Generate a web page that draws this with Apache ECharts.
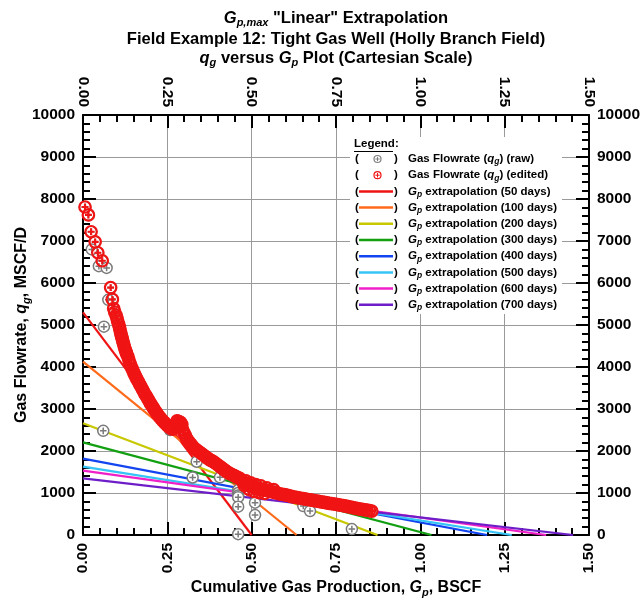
<!DOCTYPE html>
<html>
<head>
<meta charset="utf-8">
<script src="https://cdn.jsdelivr.net/npm/echarts@6/dist/echarts.min.js"></script>
<style>
  html, body { margin: 0; padding: 0; background: #fff; }
  #chart { width: 641px; height: 605px; }
</style>
</head>
<body>
<div id="chart"></div>
<script>
// Tick labels
const gpTickLabels = ['0.00', '0.25', '0.50', '0.75', '1.00', '1.25', '1.50'];
const qgTickLabels = ['0', '1000', '2000', '3000', '4000', '5000', '6000', '7000', '8000', '9000', '10000'];

// Edited gas flowrate data: [Gp (BSCF), qg (MSCF/D)]
const editedPoints = [
  [0.006,7810],[0.016,7620],[0.024,7220],[0.036,6980],[0.044,6720],[0.057,6530],
  [0.082,5890],[0.087,5610],[0.091,5390],[0.094,5310],[0.098,5230],[0.101,5150],
  [0.103,5080],[0.106,5010],[0.108,4945],[0.110,4870],[0.112,4800],[0.114,4740],
  [0.116,4680],[0.118,4620],[0.120,4560],[0.122,4500],[0.124,4450],[0.126,4390],
  [0.128,4350],[0.130,4310],[0.133,4250],[0.136,4170],[0.139,4090],[0.142,4030],
  [0.145,3970],[0.148,3910],[0.151,3860],[0.154,3810],[0.157,3760],[0.160,3710],
  [0.164,3650],[0.168,3590],[0.172,3530],[0.176,3470],[0.180,3410],[0.184,3350],
  [0.189,3290],[0.193,3230],[0.197,3170],[0.201,3120],[0.205,3070],[0.209,3020],
  [0.213,2970],[0.217,2920],[0.221,2870],[0.226,2820],[0.231,2770],[0.236,2720],
  [0.241,2680],[0.246,2640],[0.251,2600],[0.256,2570],[0.261,2540],[0.266,2520],
  [0.271,2560],[0.276,2610],[0.279,2720],[0.281,2650],[0.284,2700],[0.286,2630],
  [0.289,2680],[0.291,2580],[0.293,2630],[0.295,2510],
  [0.299,2440],[0.303,2370],[0.307,2300],[0.311,2250],[0.316,2200],[0.321,2150],
  [0.326,2100],[0.331,2060],[0.336,2030],[0.341,2000],[0.346,1970],[0.351,1940],
  [0.356,1910],[0.361,1880],[0.366,1850],[0.371,1820],[0.376,1790],[0.381,1770],
  [0.386,1745],[0.391,1720],[0.396,1690],[0.401,1660],[0.406,1630],[0.411,1600],
  [0.416,1570],[0.421,1540],[0.426,1510],[0.431,1480],[0.436,1460],[0.441,1440],
  [0.446,1420],[0.451,1400],[0.456,1380],[0.461,1360],[0.466,1340],[0.471,1300],
  [0.476,1260],[0.478,1180],[0.481,1230],[0.483,1290],[0.486,1200],[0.491,1180],
  [0.492,1090],[0.496,1160],[0.497,1240],[0.501,1150],[0.506,1140],[0.507,1040],
  [0.511,1130],[0.512,1200],[0.516,1115],[0.521,1100],[0.522,1010],[0.526,1090],
  [0.527,1170],[0.531,1085],[0.536,1075],[0.538,990],[0.541,1070],[0.545,1120],
  [0.548,1055],[0.555,1040],[0.562,1025],[0.565,1080],[0.569,1010],
  [0.576,995],[0.583,980],[0.590,970],[0.597,960],[0.604,950],[0.611,935],
  [0.618,920],[0.625,905],[0.632,895],[0.639,885],[0.646,875],[0.653,865],
  [0.660,855],[0.667,845],[0.674,835],[0.681,825],[0.688,815],[0.695,805],
  [0.702,795],[0.709,785],[0.716,775],[0.723,765],[0.730,755],[0.737,745],
  [0.744,738],[0.751,728],[0.758,718],[0.765,708],[0.772,698],[0.779,688],
  [0.786,676],[0.793,664],[0.800,652],[0.807,640],[0.814,628],[0.821,618],
  [0.828,608],[0.835,600],[0.842,592],[0.849,582],[0.856,570]
];

// Points removed during editing (present only in the raw data)
const rawOnlyPoints = [
  [0.026,6800],[0.047,6400],[0.070,6360],[0.075,5600],[0.062,4960],[0.060,2480],
  [0.258,2500],[0.325,1370],[0.337,1745],[0.406,1373],[0.460,1070],[0.460,1000],
  [0.460,940],[0.460,900],[0.460,675],[0.510,770],[0.510,475],[0.460,20],
  [0.653,690],[0.673,570],[0.797,140]
];

// Linear Gp extrapolations: qg-intercept and Gp,max for each window
const extrapDays = [50, 100, 200, 300, 400, 500, 600, 700];
const extrapQgIntercept = [5300, 4127, 2660, 2206, 1817, 1627, 1532, 1349];
const extrapGpMax = [0.500, 0.633, 0.873, 1.033, 1.198, 1.271, 1.373, 1.453];
const extrapColors = ['#F01414', '#FF6A1A', '#C8C800', '#12A012', '#1244F0', '#36C3F5', '#F020C8', '#6E1EC8'];

const FONT = '"Liberation Sans", Arial, Helvetica, sans-serif';
const markerPath = 'path://M12,2A10,10,0,1,1,12,22A10,10,0,1,1,12,2Z M12,6L12,18 M6,12L18,12';

const chart = echarts.init(document.getElementById('chart'), null, { renderer: 'canvas' });

const nameRich = {
  b: { fontFamily: FONT, fontWeight: 'bold', fontSize: 16, color: '#000', lineHeight: 20 },
  i: { fontFamily: FONT, fontWeight: 'bold', fontStyle: 'italic', fontSize: 16, color: '#000', lineHeight: 20 },
  sub: { fontFamily: FONT, fontWeight: 'bold', fontStyle: 'italic', fontSize: 11, color: '#000', lineHeight: 10, padding: [10, 0, 0, 0] }
};

const extrapSeries = extrapDays.map((d, k) => ({
  name: 'Gp extrapolation (' + d + ' days)',
  type: 'line',
  xAxisIndex: 0, yAxisIndex: 0,
  data: [[0, extrapQgIntercept[k]], [extrapGpMax[k], 0]],
  showSymbol: false,
  symbol: 'none',
  lineStyle: { color: extrapColors[k], width: 2.2 },
  z: 2,
  silent: true
}));

// Legend drawn as graphic elements
const legendX = 354, legendY0 = 159, legendStep = 16.2;
const legendGraphics = [];
legendGraphics.push({
  type: 'rect', silent: true, z: 5,
  shape: { x: 350, y: 137, width: 212, height: 177 },
  style: { fill: '#fff' }
});
legendGraphics.push({
  type: 'text', left: legendX, top: 138, silent: true, z: 6,
  style: { text: 'Legend:', font: 'bold 11.5px ' + FONT, fill: '#000' }
});
legendGraphics.push({
  type: 'line', silent: true, z: 6,
  shape: { x1: legendX, y1: 151.5, x2: legendX + 39, y2: 151.5 },
  style: { stroke: '#000', lineWidth: 1 }
});
const legendRows = [
  { kind: 'raw', text: 'Gas Flowrate ({i|q}{sub|g}) (raw)' },
  { kind: 'edited', text: 'Gas Flowrate ({i|q}{sub|g}) (edited)' }
].concat(extrapDays.map((d, k) => ({ kind: 'line', color: extrapColors[k], text: '{i|G}{sub|p} extrapolation (' + d + ' days)' })));

const legRich = {
  i: { font: 'bold italic 11.5px ' + FONT, fill: '#000', lineHeight: 14 },
  sub: { font: 'bold italic 8.5px ' + FONT, fill: '#000', lineHeight: 8, padding: [6, 0, 0, 0] }
};

legendRows.forEach((row, r) => {
  const cy = legendY0 + r * legendStep;
  legendGraphics.push({ type: 'text', silent: true, z: 6, x: legendX + 1, y: cy,
    style: { text: '(', font: 'bold 11.5px ' + FONT, fill: '#000', verticalAlign: 'middle' } });
  legendGraphics.push({ type: 'text', silent: true, z: 6, x: legendX + 40, y: cy,
    style: { text: ')', font: 'bold 11.5px ' + FONT, fill: '#000', verticalAlign: 'middle' } });
  if (row.kind === 'line') {
    legendGraphics.push({ type: 'line', silent: true, z: 6,
      shape: { x1: legendX + 5, y1: cy, x2: legendX + 39, y2: cy },
      style: { stroke: row.color, lineWidth: 2.5 } });
  } else {
    const c = row.kind === 'raw' ? '#808080' : '#F01414';
    legendGraphics.push({ type: 'circle', silent: true, z: 6,
      shape: { cx: legendX + 23.5, cy: cy, r: 3.5 },
      style: { fill: '#fff', stroke: c, lineWidth: 1.2 } });
    legendGraphics.push({ type: 'polyline', silent: true, z: 6,
      shape: { points: [[legendX + 23.5, cy - 2.2], [legendX + 23.5, cy + 2.2]] },
      style: { stroke: c, lineWidth: 1 } });
    legendGraphics.push({ type: 'polyline', silent: true, z: 6,
      shape: { points: [[legendX + 21.3, cy], [legendX + 25.7, cy]] },
      style: { stroke: c, lineWidth: 1 } });
  }
  legendGraphics.push({ type: 'text', silent: true, z: 6, x: legendX + 54, y: cy,
    style: { text: row.text, font: 'bold 11.5px ' + FONT, fill: '#000', verticalAlign: 'middle', rich: legRich } });
});

// Chart title lines
const titleRich = {
  b: { font: 'bold 16.5px ' + FONT, fill: '#000', lineHeight: 20 },
  i: { font: 'bold italic 16.5px ' + FONT, fill: '#000', lineHeight: 20 },
  sub: { font: 'bold italic 11px ' + FONT, fill: '#000', lineHeight: 10, padding: [10, 0, 0, 0] }
};
const titleLines = [
  '{i|G}{sub|p,max}{b| "Linear" Extrapolation}',
  '{b|Field Example 12: Tight Gas Well (Holly Branch Field)}',
  '{i|q}{sub|g}{b| versus }{i|G}{sub|p}{b| Plot (Cartesian Scale)}'
];
const titleY = [18, 39, 58];
const titleGraphics = titleLines.map((t, k) => ({
  type: 'text', silent: true, x: 336, y: titleY[k],
  style: { text: t, align: 'center', verticalAlign: 'middle', rich: titleRich }
}));

const axisLabelStyle = { fontFamily: FONT, fontWeight: 'bold', fontSize: 15.5, color: '#000' };
const gpFmt = v => gpTickLabels[Math.round(v / 0.25)] ?? '';
const qgFmt = v => qgTickLabels[Math.round(v / 1000)] ?? '';

function xAxisDef(pos, withGrid) {
  return {
    type: 'value', position: pos, min: 0, max: 1.5, interval: 0.25,
    axisLine: { show: true, onZero: false, lineStyle: { color: '#000', width: 2 } },
    axisTick: { show: true, inside: true, length: 13, lineStyle: { color: '#000', width: 2 } },
    minorTick: { show: true, splitNumber: 5, length: 7, lineStyle: { color: '#000', width: 2 } },
    axisLabel: Object.assign({ rotate: 90, margin: 8, formatter: gpFmt }, axisLabelStyle),
    splitLine: { show: withGrid, lineStyle: { color: '#9a9a9a', width: 1 } },
    minorSplitLine: { show: false }
  };
}
function yAxisDef(pos, withGrid) {
  return {
    type: 'value', position: pos, min: 0, max: 10000, interval: 1000,
    axisLine: { show: true, onZero: false, lineStyle: { color: '#000', width: 2 } },
    axisTick: { show: true, inside: true, length: 13, lineStyle: { color: '#000', width: 2 } },
    minorTick: { show: true, splitNumber: 5, length: 7, lineStyle: { color: '#000', width: 2 } },
    axisLabel: Object.assign({ margin: 8, formatter: qgFmt }, axisLabelStyle),
    splitLine: { show: withGrid, lineStyle: { color: '#9a9a9a', width: 1 } },
    minorSplitLine: { show: false }
  };
}

const xBottom = xAxisDef('bottom', true);
xBottom.name = '{b|Cumulative Gas Production, }{i|G}{sub|p}{b|, BSCF}';
xBottom.nameLocation = 'middle';
xBottom.nameGap = 43;
xBottom.nameMoveOverlap = false;
xBottom.nameTextStyle = { rich: nameRich };

const yLeft = yAxisDef('left', true);
yLeft.name = '{b|Gas Flowrate, }{i|q}{sub|g}{b|, MSCF/D}';
yLeft.nameLocation = 'middle';
yLeft.nameGap = 51;
yLeft.nameMoveOverlap = false;
yLeft.nameTextStyle = { rich: nameRich };

const option = {
  backgroundColor: '#fff',
  animation: false,
  grid: { left: 83, right: 52, top: 115, bottom: 70, containLabel: false, outerBoundsMode: 'none' },
  xAxis: [xBottom, xAxisDef('top', false)],
  yAxis: [yLeft, yAxisDef('right', false)],
  series: extrapSeries.concat([
    {
      name: 'Gas Flowrate (qg) (raw)',
      type: 'scatter',
      xAxisIndex: 0, yAxisIndex: 0,
      data: editedPoints.concat(rawOnlyPoints),
      symbol: markerPath,
      symbolSize: 11,
      itemStyle: { color: '#fff', borderColor: '#7a7a7a', borderWidth: 1.5, opacity: 1 },
      z: 3, silent: true
    },
    {
      name: 'Gas Flowrate (qg) (edited)',
      type: 'scatter',
      xAxisIndex: 0, yAxisIndex: 0,
      data: editedPoints,
      symbol: markerPath,
      symbolSize: 11.5,
      itemStyle: { color: 'rgba(255,255,255,0)', borderColor: '#F01414', borderWidth: 2.2, opacity: 1 },
      z: 4, silent: true
    }
  ]),
  graphic: titleGraphics.concat(legendGraphics)
};

chart.setOption(option);
</script>
</body>
</html>
